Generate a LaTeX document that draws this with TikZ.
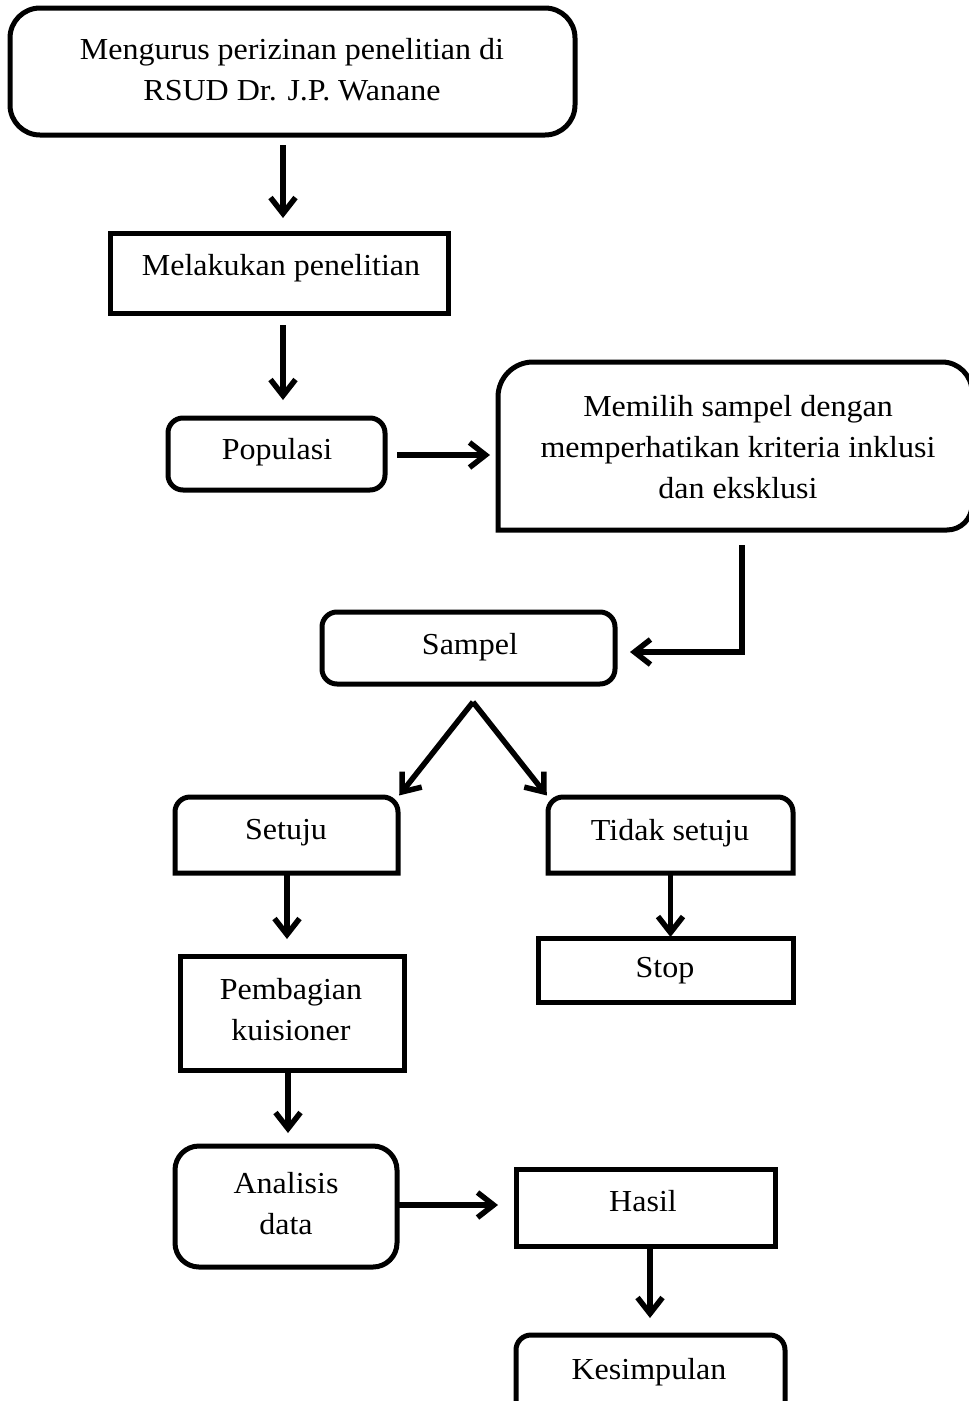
\documentclass[tikz,border=0pt]{standalone}
\usepackage{fontspec}
\setmainfont{Liberation Serif}[FakeStretch=1.05]
\usetikzlibrary{arrows.meta}
\begin{document}
\begin{tikzpicture}[x=1pt,y=1pt,
  ln/.style={line width=5pt},
  bx/.style={rectangle, inner sep=0pt, outer sep=0pt},
  sqbox/.style={bx, draw, ln},
  rbox/.style={bx, draw, ln, rounded corners=#1},
  plain/.style={bx, draw=none},
  txt/.style={inner sep=0pt, align=center, font=\fontsize{30.5}{41}\selectfont},
  tip/.style={-{Straight Barb[length=16pt,width=25pt,line width=5.5pt]}},
  arr/.style={line width=5.5pt, tip}
]
\useasboundingbox (0,0) rectangle (969,-1401);
\clip (0,0) rectangle (969,-1401);

% boxes
\node[rbox=30pt, minimum width=565pt, minimum height=127pt] (top) at (292.5,-71.5) {};
\node[sqbox, minimum width=338pt, minimum height=80pt] (mel) at (279,-273) {};
\node[rbox=15pt, minimum width=217pt, minimum height=72pt] (pop) at (276.5,-454) {};
\node[plain, minimum width=474pt, minimum height=168pt] (mem) at (735,-446) {};
\node[rbox=15pt, minimum width=293pt, minimum height=72pt] (sam) at (468.5,-648) {};
\node[plain, minimum width=223pt, minimum height=76pt] (set) at (286.5,-835) {};
\node[plain, minimum width=245pt, minimum height=76pt] (tid) at (670.5,-835) {};
\node[sqbox, minimum width=224pt, minimum height=114pt] (pem) at (292,-1013) {};
\node[sqbox, minimum width=255pt, minimum height=64pt] (stop) at (665.5,-970) {};
\node[rbox=24pt, minimum width=222pt, minimum height=121pt] (ana) at (286,-1206.5) {};
\node[sqbox, minimum width=259pt, minimum height=77pt] (has) at (645.5,-1207.5) {};
\node[plain, minimum width=269pt, minimum height=80pt] (kes) at (650.5,-1375) {};

% partially rounded outlines
\draw[ln] (mem.south west) -- ([yshift=-35pt]mem.north west)
  arc[start angle=180, end angle=90, radius=35pt] -- ([xshift=-30pt]mem.north east)
  arc[start angle=90, end angle=0, radius=30pt] -- ([yshift=25pt]mem.south east)
  arc[start angle=0, end angle=-90, radius=25pt] -- cycle;
\draw[ln] (set.south west) -- ([yshift=-15pt]set.north west)
  arc[start angle=180, end angle=90, radius=15pt] -- ([xshift=-15pt]set.north east)
  arc[start angle=90, end angle=0, radius=15pt] -- (set.south east) -- cycle;
\draw[ln] (tid.south west) -- ([yshift=-15pt]tid.north west)
  arc[start angle=180, end angle=90, radius=15pt] -- ([xshift=-15pt]tid.north east)
  arc[start angle=90, end angle=0, radius=15pt] -- (tid.south east) -- cycle;
\draw[ln] (kes.south west) -- ([yshift=-15pt]kes.north west)
  arc[start angle=180, end angle=90, radius=15pt] -- ([xshift=-15pt]kes.north east)
  arc[start angle=90, end angle=0, radius=15pt] -- (kes.south east) -- cycle;

% texts
\node[txt] (ttop) at (292,-70) {Mengurus perizinan penelitian di\\RSUD Dr. J.P. Wanane};
\node[txt] (tmel) at (281,-268) {Melakukan penelitian};
\node[txt] (tpop) at (277,-452) {Populasi};
\node[txt] (tmem) at (738,-447) {Memilih sampel dengan\\memperhatikan kriteria inklusi\\dan eksklusi};
\node[txt] (tsam) at (470,-647) {Sampel};
\node[txt] (tset) at (286,-833) {Setuju};
\node[txt] (ttid) at (670,-833) {Tidak setuju};
\node[txt] (tpem) at (291,-1010) {Pembagian\\kuisioner};
\node[txt] (tstop) at (665,-971) {Stop};
\node[txt] (tana) at (286,-1204) {Analisis\\data};
\node[txt] (thas) at (643,-1201) {Hasil};
\node[txt] (tkes) at (649,-1372) {Kesimpulan};

% connectors
\coordinate (fork) at (473,-702);
\draw[arr, shorten <=10pt, shorten >=15pt] ([xshift=-9.5pt]top.south) -- ([xshift=4pt]mel.north);
\draw[arr, shorten <=12pt, shorten >=18pt] ([xshift=4pt]mel.south) -- ([xshift=6.5pt]pop.north);
\draw[arr, shorten <=12pt, shorten >=8pt] ([yshift=-1pt]pop.east) -- ([yshift=-1pt]pop.east -| mem.west);
\draw[arr, shorten <=15pt, shorten >=15pt]
  ([xshift=7pt]mem.south) |- ([yshift=-4pt]sam.east);
\draw[arr, shorten >=2pt] (fork) -- (set.north east);
\draw[arr, shorten >=2pt] (fork) -- (tid.north west);
\draw[arr, shorten <=2pt, shorten >=17pt] ([xshift=0.5pt]set.south) -- ([xshift=0.5pt]set.south |- pem.north);
\draw[arr, shorten <=2pt, shorten >=1pt] (tid.south) -- (tid.south |- stop.north);
\draw[arr, shorten <=2pt, shorten >=13pt] ([xshift=-4pt]pem.south) -- ([xshift=2pt]ana.north);
\draw[arr, shorten >=18pt] ([yshift=1.5pt]ana.east) -- ([yshift=1.5pt]ana.east -| has.west);
\draw[arr, shorten <=2pt, shorten >=17pt] ([xshift=4.5pt]has.south) -- ([xshift=4.5pt]has.south |- kes.north);
\end{tikzpicture}
\end{document}
